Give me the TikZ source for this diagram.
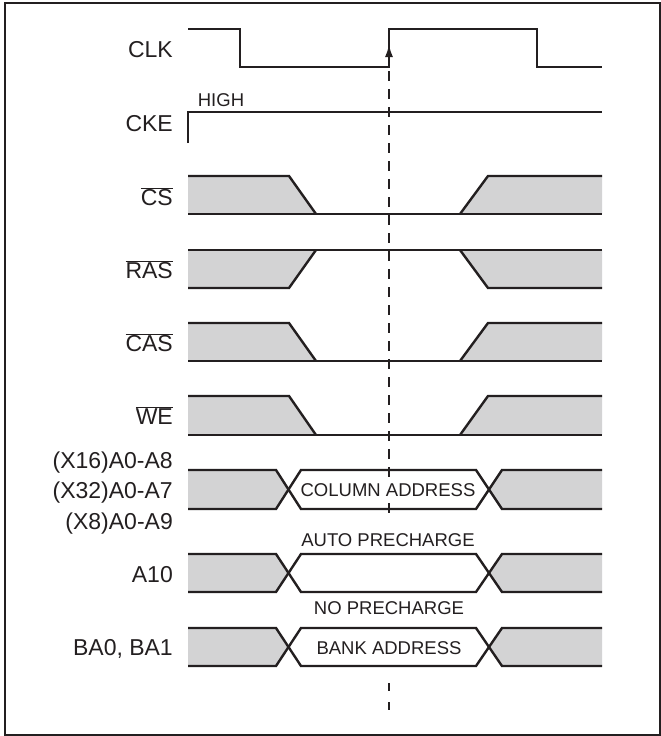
\documentclass[tikz,border=0pt]{standalone}
\usepackage{fontspec}
\setmainfont{Liberation Sans}
\usetikzlibrary{arrows.meta}

\definecolor{ink}{HTML}{231F20}
\definecolor{busgray}{HTML}{D3D3D4}

\def\xs{188}
\def\xe{602}
\def\fa{289}
\def\fb{316}
\def\ra{460}
\def\rb{488}
\def\ca{276}
\def\cb{289}
\def\cc{301}
\def\cd{476}
\def\ce{489}
\def\cf{502}

\tikzset{
  wave/.style={color=ink,line width=2.4pt},
  thinwave/.style={color=ink,line width=1.5pt},
  siglabel/.style={anchor=east,inner sep=0pt,text height=16.5pt,text depth=0pt,
    font=\fontsize{23}{26}\selectfont,color=ink},
  smalltext/.style={inner sep=1pt,text height=13.3pt,text depth=0pt,
    font=\fontsize{18.5}{21}\selectfont,color=ink}
}

% #1 top, #2 bottom
\newcommand\lowpulse[2]{%
  \fill[busgray] (\xs,#1) -- (\fa,#1) -- (\fb,#2) -- (\xs,#2) -- cycle;
  \fill[busgray] (\rb,#1) -- (\xe,#1) -- (\xe,#2) -- (\ra,#2) -- cycle;
  \draw[wave] (\xs,#1) -- (\fa,#1) -- (\fb,#2);
  \draw[wave] (\xs,#2) -- (\fb,#2);
  \draw[thinwave] (\fb,#2) -- (\ra,#2);
  \draw[wave] (\ra,#2) -- (\xe,#2);
  \draw[wave] (\ra,#2) -- (\rb,#1) -- (\xe,#1);
}
\newcommand\highpulse[2]{%
  \fill[busgray] (\xs,#1) -- (\fb,#1) -- (\fa,#2) -- (\xs,#2) -- cycle;
  \fill[busgray] (\ra,#1) -- (\xe,#1) -- (\xe,#2) -- (\rb,#2) -- cycle;
  \draw[wave] (\xs,#2) -- (\fa,#2) -- (\fb,#1);
  \draw[wave] (\xs,#1) -- (\fb,#1);
  \draw[thinwave] (\fb,#1) -- (\ra,#1);
  \draw[wave] (\ra,#1) -- (\xe,#1);
  \draw[wave] (\ra,#1) -- (\rb,#2) -- (\xe,#2);
}
\newcommand\busrow[2]{%
  \fill[busgray] (\xs,#1) -- (\ca,#1) -- (\cb,{(#1+#2)/2}) -- (\ca,#2) -- (\xs,#2) -- cycle;
  \fill[busgray] (\xe,#1) -- (\cf,#1) -- (\ce,{(#1+#2)/2}) -- (\cf,#2) -- (\xe,#2) -- cycle;
  \draw[wave] (\xs,#1) -- (\ca,#1) -- (\cc,#2) -- (\cd,#2) -- (\cf,#1) -- (\xe,#1);
  \draw[wave] (\xs,#2) -- (\ca,#2) -- (\cc,#1) -- (\cd,#1) -- (\cf,#2) -- (\xe,#2);
}

\begin{document}
\begin{tikzpicture}[x=1pt,y=-1pt,>=latex]
\useasboundingbox (0,0) rectangle (661,736);
\draw[color=ink,line width=2.2pt] (5,3) rectangle (660,735);

% reference edge
\draw[color=ink,line width=1.6pt,dash pattern=on 10pt off 8pt,dash phase=-4pt]
  (389,67) -- (389,513);
\draw[color=ink,line width=1.6pt,dash pattern=on 8pt off 11pt]
  (389,683) -- (389,710);

% clock
\draw[wave] (\xs,29) -- (240,29) -- (240,67) -- (389,67) -- (389,29)
  -- (537,29) -- (537,67) -- (\xe,67);
\draw[color=ink,line width=2.4pt,-{Latex[length=13pt,width=8pt]}] (389,67) -- (389,44);

% clock enable
\draw[wave] (\xs,143) -- (\xs,112) -- (\xe,112);
\node[smalltext] (high) at (221,100) {HIGH};

% commands
\lowpulse{176}{214}
\highpulse{250}{288}
\lowpulse{323}{361}
\lowpulse{396}{435}

% address, A10, bank
\busrow{470}{509}
\busrow{554}{592}
\busrow{628}{666}
\node[smalltext,fill=white] (coladdr) at (388,490) {COLUMN ADDRESS};
\node[smalltext] (autopre) at (388,540) {AUTO PRECHARGE};
\node[smalltext] (nopre) at (389,608) {NO PRECHARGE};
\node[smalltext] (bankaddr) at (389,648) {BANK ADDRESS};

\node[siglabel] (clk) at (173,49) {CLK};
\node[siglabel] (cke) at (173,123) {CKE};
\node[siglabel] (cs) at (173,197) {$\overline{\hbox{CS}}$};
\node[siglabel] (ras) at (173,270) {$\overline{\hbox{RAS}}$};
\node[siglabel] (cas) at (173,343) {$\overline{\hbox{CAS}}$};
\node[siglabel] (we) at (173,416) {$\overline{\hbox{WE}}$};
\node[siglabel] (ax16) at (173,460) {(X16)A0-A8};
\node[siglabel] (ax32) at (173,490) {(X32)A0-A7};
\node[siglabel] (ax8) at (173,521) {(X8)A0-A9};
\node[siglabel] (a10) at (173,574) {A10};
\node[siglabel] (ba) at (173,647) {BA0, BA1};

\end{tikzpicture}
\end{document}
